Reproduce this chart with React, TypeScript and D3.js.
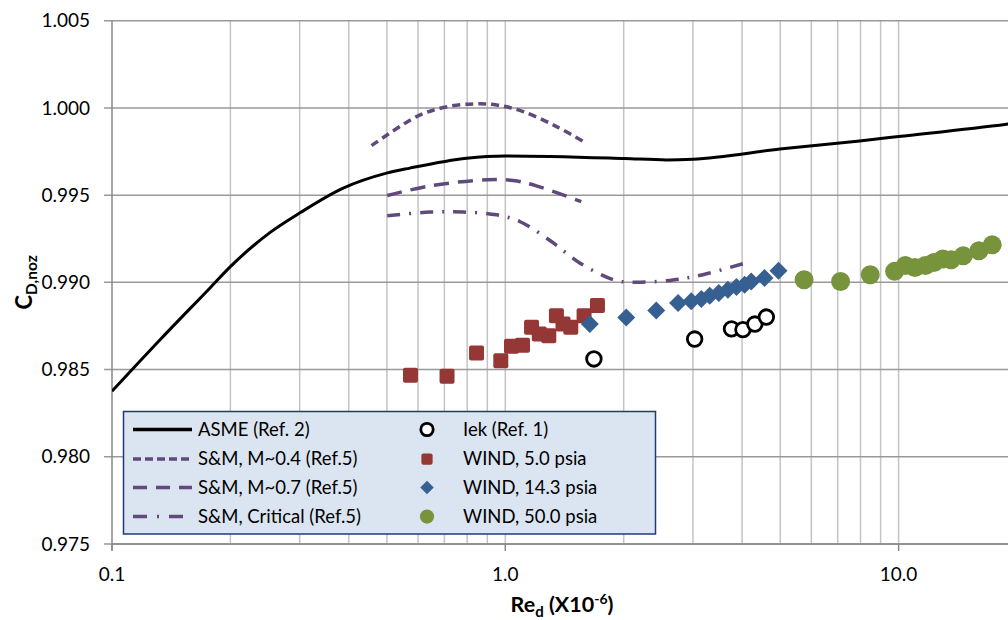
import React from 'react';
import * as d3 from 'd3';

// ASME (Ref. 2) curve
const asmeRe = [0.1, 0.1325, 0.1775, 0.2, 0.252, 0.3, 0.387, 0.499, 0.572, 0.797, 1.0, 2.01, 2.57, 3.0, 4.99, 7.96, 10.0, 18.8, 20.0];
const asmeCd = [0.98376, 0.98671, 0.98968, 0.9909, 0.99285, 0.99397, 0.9954, 0.99626, 0.99655, 0.99712, 0.99725, 0.9971, 0.99702, 0.99706, 0.99764, 0.99811, 0.99836, 0.99907, 0.99915];

// S&M curves (Ref. 5)
const sm04Re = [0.457, 0.595, 0.695, 0.828, 0.95, 1.11, 1.35, 1.59];
const sm04Cd = [0.99784, 0.9995, 1.00002, 1.00023, 1.00017, 0.99979, 0.99893, 0.99804];
const sm07Re = [0.501, 0.643, 0.896, 1.047, 1.2, 1.56];
const sm07Cd = [0.99498, 0.99553, 0.99588, 0.99584, 0.99553, 0.99463];
const smCritRe = [0.501, 0.643, 0.781, 0.95, 1.088, 1.31, 1.546, 1.88, 2.03, 2.62, 3.18, 4.02];
const smCritCd = [0.99382, 0.99403, 0.99403, 0.99387, 0.99349, 0.99234, 0.99111, 0.99015, 0.99002, 0.99011, 0.99044, 0.99107];

// data points
const iekRe = [1.68, 3.03, 3.76, 4.02, 4.31, 4.61];
const iekCd = [0.98561, 0.98675, 0.98733, 0.98729, 0.98761, 0.98801];
const wind5Re = [0.574, 0.711, 0.845, 0.974, 1.037, 1.106, 1.166, 1.22, 1.29, 1.349, 1.402, 1.467, 1.586, 1.715];
const wind5Cd = [0.98467, 0.98461, 0.98595, 0.98551, 0.98633, 0.98639, 0.98742, 0.98704, 0.98694, 0.98809, 0.98761, 0.98742, 0.98809, 0.98868];
const wind14Re = [1.64, 2.03, 2.42, 2.75, 2.97, 3.15, 3.31, 3.49, 3.68, 3.87, 4.06, 4.22, 4.56, 4.95];
const wind14Cd = [0.98761, 0.98799, 0.98839, 0.98882, 0.98891, 0.98904, 0.98923, 0.98939, 0.98958, 0.98973, 0.98986, 0.99005, 0.99025, 0.99067];
const wind50Re = [5.75, 7.12, 8.47, 9.77, 10.4, 11.0, 11.7, 12.3, 12.96, 13.6, 14.6, 16.0, 17.3];
const wind50Cd = [0.99015, 0.99005, 0.99044, 0.99063, 0.99097, 0.99085, 0.99097, 0.99114, 0.99134, 0.9913, 0.99152, 0.99181, 0.99215];

const yTicks = [0.975, 0.98, 0.985, 0.99, 0.995, 1.0, 1.005];
const xMajor = [0.1, 1, 10];

const W = 1008;
const H = 620;
const purple = '#604a7b';
const red = '#953735';
const blue = '#376092';
const green = '#77933c';
const font = 'Lato, "Open Sans", sans-serif';

const zip = (xs: number[], ys: number[]) => xs.map((x, i) => [x, ys[i]] as [number, number]);

export default function App() {
  const x = d3.scaleLog().domain([0.1, 20]).range([112, 1017]);
  const y = d3.scaleLinear().domain([0.975, 1.005]).range([544, 20.7]);

  const smooth = d3.line<[number, number]>()
    .x(d => x(d[0]))
    .y(d => y(d[1]))
    .curve(d3.curveMonotoneX);

  const line = d3.line<[number, number]>()
    .x(d => x(d[0]))
    .y(d => y(d[1]))
    .curve(d3.curveCatmullRom);

  // vertical grid lines at 1..9 of each decade
  const vGrid: number[] = [];
  for (const dec of [0.1, 1, 10]) {
    for (let k = 1; k <= 9; k++) {
      const v = dec * k;
      if (v > 0.1 && v <= 20) vGrid.push(v);
    }
  }

  const [x0, x1] = x.range();
  const [yb, yt] = y.range();

  const dashed = [
    { label: 'ASME (Ref. 2)', dash: 'none', color: '#000' },
    { label: 'S&M, M~0.4 (Ref.5)', dash: '8 4', color: purple },
    { label: 'S&M, M~0.7 (Ref.5)', dash: '14 9', color: purple },
    { label: 'S&M, Critical (Ref.5)', dash: '14 10 2 10', color: purple },
  ];
  const markerLegend = ['Iek (Ref. 1)', 'WIND, 5.0 psia', 'WIND, 14.3 psia', 'WIND, 50.0 psia'];

  const diamond = (cx: number, cy: number, r: number) =>
    `M${cx},${cy - r}L${cx + r},${cy}L${cx},${cy + r}L${cx - r},${cy}Z`;

  const drawMarker = (i: number, cx: number, cy: number, key: string, s = 1) => {
    if (i === 0) return <circle key={key} cx={cx} cy={cy} r={7.3 * s} fill="#fff" stroke="#000" strokeWidth={2.8} />;
    if (i === 1) return <rect key={key} x={cx - 7.5 * s} y={cy - 7.5 * s} width={15 * s} height={15 * s} rx={2} fill={red} />;
    if (i === 2) return <path key={key} d={diamond(cx, cy, 9 * s)} fill={blue} />;
    return <circle key={key} cx={cx} cy={cy} r={9.5 * s} fill={green} />;
  };

  const lx = 123.5;
  const ly = 411.5;
  const rowY = [429.5, 459, 487.5, 516.5];

  return (
    <svg width={W} height={H} style={{ position: 'absolute', left: 0, top: 0, background: '#fff' }} fontFamily={font}>
      <defs>
        <clipPath id="plot">
          <rect x={x0} y={yt - 6} width={x1 - x0} height={yb - yt + 6} />
        </clipPath>
      </defs>

      {/* grid */}
      {vGrid.map(v => (
        <line key={'v' + v} x1={x(v)} x2={x(v)} y1={yt} y2={yb} stroke="#c4c4c4" strokeWidth={1.5} />
      ))}
      {yTicks.map(t => (
        <line key={'h' + t} x1={x0 - 8} x2={x1} y1={y(t)} y2={y(t)} stroke="#999" strokeWidth={1.5} />
      ))}
      {/* axes */}
      <line x1={x0} x2={x0} y1={yt} y2={yb + 6} stroke="#888" strokeWidth={1.5} />
      <line x1={x0} x2={x1} y1={yb} y2={yb} stroke="#888" strokeWidth={1.5} />
      {xMajor.map(t => (
        <line key={'xt' + t} x1={x(t)} x2={x(t)} y1={yb} y2={yb + 7} stroke="#888" strokeWidth={1.5} />
      ))}

      {/* tick labels */}
      {yTicks.map(t => (
        <text key={'yl' + t} x={90} y={y(t)} dy="0.35em" textAnchor="end" fontSize={19} fill="#000">
          {t.toFixed(3)}
        </text>
      ))}
      {xMajor.map(t => (
        <text key={'xl' + t} x={x(t)} y={581} textAnchor="middle" fontSize={19} fill="#000">
          {t.toFixed(1)}
        </text>
      ))}

      {/* axis titles */}
      <text x={562} y={612} textAnchor="middle" fontSize={21.5} fontWeight="bold" fill="#000">
        Re<tspan fontSize={15} dy={5}>d</tspan>
        <tspan dy={-5}> (X10</tspan>
        <tspan fontSize={14} dy={-8}>-6</tspan>
        <tspan dy={8}>)</tspan>
      </text>
      <text transform={`translate(32,${(yt + yb) / 2}) rotate(-90)`} textAnchor="middle" fontSize={22} fontWeight="bold" fill="#000">
        C<tspan fontSize={15.5} dy={5}>D,noz</tspan>
      </text>

      {/* curves */}
      <g clipPath="url(#plot)">
        <path d={smooth(zip(asmeRe, asmeCd)) || ''} fill="none" stroke="#000" strokeWidth={3} />
        <path d={line(zip(sm04Re, sm04Cd)) || ''} fill="none" stroke={purple} strokeWidth={3.5} strokeDasharray="8 5" />
        <path d={line(zip(sm07Re, sm07Cd)) || ''} fill="none" stroke={purple} strokeWidth={3.5} strokeDasharray="15 9" />
        <path d={line(zip(smCritRe, smCritCd)) || ''} fill="none" stroke={purple} strokeWidth={3.5} strokeDasharray="13 9 2 9" />

        {/* markers */}
        {zip(iekRe, iekCd).map((d, i) => drawMarker(0, x(d[0]), y(d[1]), 'i' + i))}
        {zip(wind5Re, wind5Cd).map((d, i) => drawMarker(1, x(d[0]), y(d[1]), 'r' + i))}
        {zip(wind14Re, wind14Cd).map((d, i) => drawMarker(2, x(d[0]), y(d[1]), 'b' + i))}
        {zip(wind50Re, wind50Cd).map((d, i) => drawMarker(3, x(d[0]), y(d[1]), 'g' + i))}
      </g>

      {/* legend */}
      <rect x={lx} y={ly} width={532} height={122.5} fill="#dbe5f1" stroke="#1f3a7a" strokeWidth={1.5} />
      {dashed.map((d, i) => (
        <g key={'ld' + i}>
          <line x1={133} x2={192} y1={rowY[i]} y2={rowY[i]} stroke={d.color} strokeWidth={3.5} strokeDasharray={d.dash} />
          <text x={198} y={rowY[i]} dy="0.35em" fontSize={18.5} fill="#000">{d.label}</text>
        </g>
      ))}
      {markerLegend.map((label, i) => (
        <g key={'lm' + i}>
          {drawMarker(i, 427, rowY[i], 'lmk' + i, i === 0 ? 0.85 : 0.75)}
          <text x={463} y={rowY[i]} dy="0.35em" fontSize={18.5} fill="#000">{label}</text>
        </g>
      ))}
    </svg>
  );
}
